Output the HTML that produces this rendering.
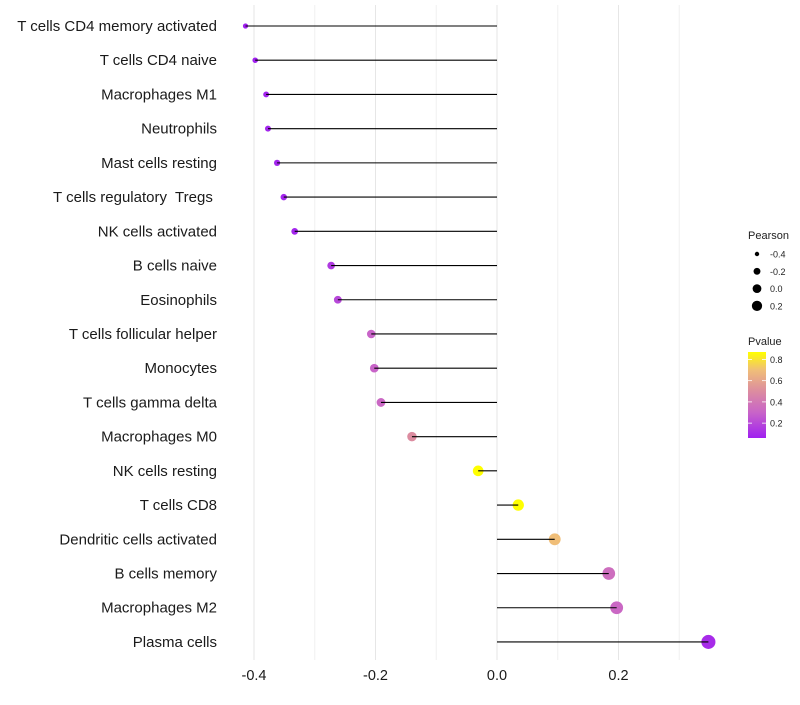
<!DOCTYPE html>
<html><head><meta charset="utf-8"><style>
body{margin:0;background:#fff;font-family:"Liberation Sans",sans-serif}
svg text{font-family:"Liberation Sans",sans-serif;white-space:pre}
</style></head><body>
<svg id="chart" width="800" height="700"></svg>
<script>
const categories=["T cells CD4 memory activated","T cells CD4 naive","Macrophages M1","Neutrophils","Mast cells resting","T cells regulatory  Tregs ","NK cells activated","B cells naive","Eosinophils","T cells follicular helper","Monocytes","T cells gamma delta","Macrophages M0","NK cells resting","T cells CD8","Dendritic cells activated","B cells memory","Macrophages M2","Plasma cells"];
const pearson=[-0.414,-0.398,-0.380,-0.377,-0.362,-0.351,-0.333,-0.273,-0.262,-0.207,-0.202,-0.191,-0.140,-0.031,0.035,0.095,0.184,0.197,0.348];
const pvalues=[0.05,0.05,0.07,0.08,0.08,0.08,0.08,0.15,0.2,0.3,0.3,0.32,0.5,0.87,0.87,0.7,0.35,0.32,0.1];
const xTicks=[-0.4,-0.2,0.0,0.2];
const xMinor=[-0.3,-0.1,0.1,0.3];
const sizeBreaks=[-0.4,-0.2,0.0,0.2];
const colorBreaks=[0.2,0.4,0.6,0.8];

const NS="http://www.w3.org/2000/svg";
const svgEl=document.getElementById('chart');
function mk(t,a,p){const e=document.createElementNS(NS,t);for(const k in a)e.setAttribute(k,a[k]);(p||svgEl).appendChild(e);return e;}
const sx=v=>497+v*607.5;
const sy=i=>26+i*34.22;
const sr=v=>Math.sqrt(Math.max(1,30+56*v));
const stops=[[0.06,[160,32,240]],[0.3,[200,100,200]],[0.5,[220,140,160]],[0.7,[240,190,120]],[0.87,[255,255,0]]];
function col(p){
  if(p<=stops[0][0])return 'rgb('+stops[0][1]+')';
  for(let i=1;i<stops.length;i++){if(p<=stops[i][0]){const a=stops[i-1],b=stops[i],t=(p-a[0])/(b[0]-a[0]);return 'rgb('+a[1].map((c,j)=>Math.round(c+(b[1][j]-c)*t))+')';}}
  return 'rgb('+stops[stops.length-1][1]+')';
}
xMinor.forEach(v=>{const g=mk('line',{x1:sx(v),x2:sx(v),y1:5,y2:660,stroke:'#f0f0f0','stroke-width':1});

});
xTicks.forEach(v=>{const g=mk('line',{x1:sx(v),x2:sx(v),y1:5,y2:660,stroke:'#e6e6e6','stroke-width':1});


const t=mk('text',{x:sx(v),y:680,'text-anchor':'middle','font-size':14.5,fill:'#1a1a1a'});t.textContent=v.toFixed(1);

});
categories.forEach((c,i)=>{
  const t=mk('text',{x:217,y:sy(i)+5,'text-anchor':'end','font-size':15,fill:'#1a1a1a'});t.textContent=c;
  
  
  const pt=mk('circle',{cx:sx(pearson[i]),cy:sy(i),r:sr(pearson[i]),fill:col(pvalues[i])});
  
  
  const ln=mk('line',{x1:sx(0),x2:sx(pearson[i]),y1:sy(i),y2:sy(i),stroke:'#000','stroke-width':1.1});
  
  
});
let lt=mk('text',{x:748,y:239,'font-size':11,fill:'#222'});lt.textContent='Pearson';


sizeBreaks.forEach((v,i)=>{const yy=254+i*17.3;
  const c=mk('circle',{cx:757,cy:yy,r:sr(v)*0.8,fill:'#000'});
  
  
  const t=mk('text',{x:770,y:yy+3.5,'font-size':9,fill:'#222'});t.textContent=v.toFixed(1);
  
  });
lt=mk('text',{x:748,y:345,'font-size':11,fill:'#222'});lt.textContent='Pvalue';


const defs=mk('defs',{});const lg=mk('linearGradient',{id:'pg',x1:0,y1:1,x2:0,y2:0},defs);
const cbTop=352,cbBot=438,pTop=0.87,pBot=0.06;
stops.forEach(s=>mk('stop',{offset:(s[0]-pBot)/(pTop-pBot),'stop-color':'rgb('+s[1]+')'},lg));
const bar=mk('rect',{x:748,y:cbTop,width:18,height:cbBot-cbTop,fill:'url(#pg)'});


const py=p=>cbBot-(p-pBot)/(pTop-pBot)*(cbBot-cbTop);
colorBreaks.forEach(p=>{
  mk('line',{x1:748,x2:752,y1:py(p),y2:py(p),stroke:'#fff','stroke-width':0.8});
  mk('line',{x1:762,x2:766,y1:py(p),y2:py(p),stroke:'#fff','stroke-width':0.8});
  const t=mk('text',{x:770,y:py(p)+3.5,'font-size':9,fill:'#222'});t.textContent=p.toFixed(1);
  
  });
</script>
</body></html>
